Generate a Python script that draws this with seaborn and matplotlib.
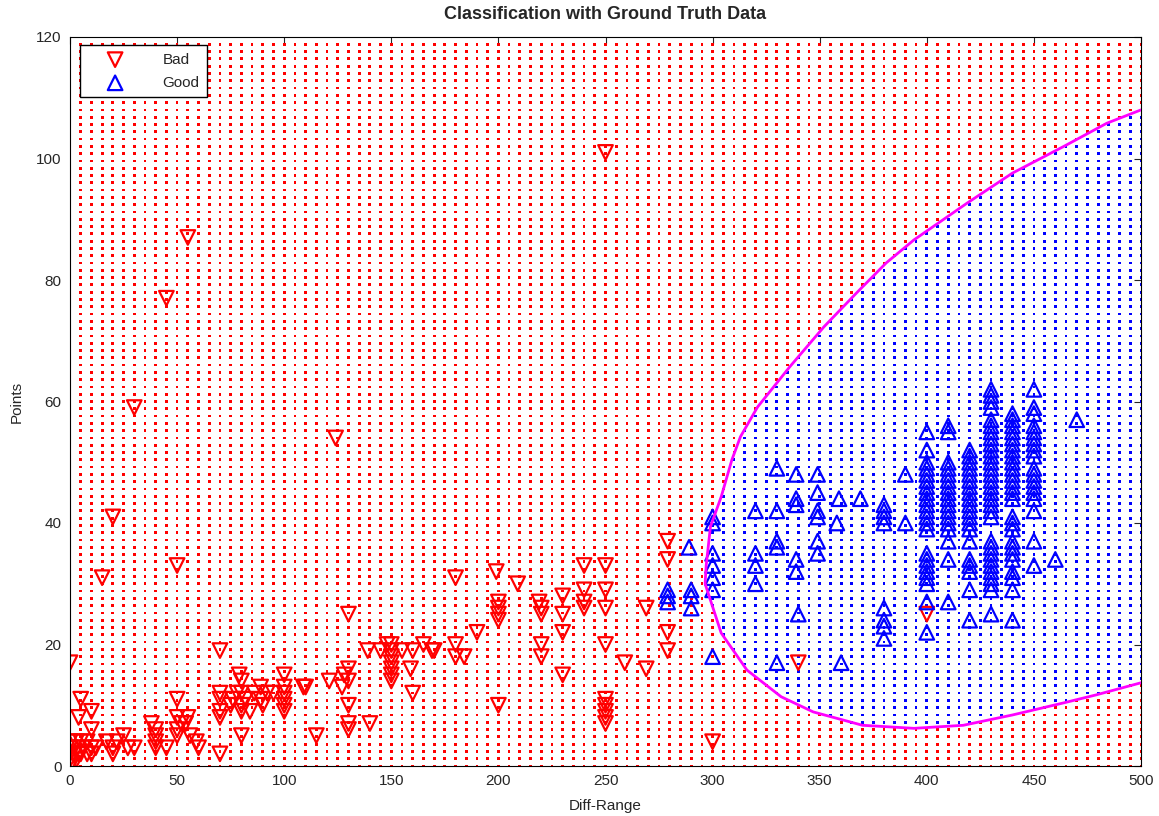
import numpy as np
import pandas as pd
import matplotlib
matplotlib.use("Agg")
import matplotlib.pyplot as plt
from matplotlib.path import Path
import seaborn as sns

# titik data kelas Bad (segitiga merah ke bawah)
bad_x = [0, 0, 0, 0, 0, 0, 1, 2, 2, 3, 3, 4, 5, 4, 5, 5, 6, 8, 8, 10, 10, 10, 10, 12,
         15, 17, 20, 20, 20, 22, 25, 27, 30, 30,
         38, 40, 40, 40, 40, 45, 45, 50, 50, 50, 50, 50, 52, 54, 55, 55, 56, 59, 60,
         70, 70, 70, 70, 70, 70, 75, 76, 78, 79, 80, 80, 80, 80, 80, 82, 84, 86, 89, 89,
         90, 92, 95, 100, 100, 100, 100, 100, 100, 109,
         110, 115, 121, 124, 127, 128, 130, 130, 130, 130, 130, 130, 139, 140, 145, 148,
         150, 150, 150, 150, 150, 150, 150, 155, 159, 160, 160, 165, 169, 170,
         180, 180, 180, 184, 190, 199, 200, 200, 200, 200, 200, 209, 219, 220, 220, 220, 220,
         230, 230, 230, 230, 240, 240, 240, 240, 250, 250, 250, 250, 250, 250, 250, 250, 250, 250,
         259, 269, 269, 279, 279, 279, 279, 300, 340, 400]
bad_y = [0, 1, 2, 3, 4, 17, 0.5, 2, 3, 1, 4, 2, 11, 8, 4, 2, 3, 4, 2, 9, 6, 3, 2, 3,
         31, 4, 41, 3, 2, 4, 5, 3, 59, 3,
         7, 6, 5, 4, 3, 77, 3, 33, 11, 8, 6, 5, 7, 7, 87, 8, 5, 4, 3,
         19, 12, 11, 9, 8, 2, 10, 11, 12, 15, 14, 12, 10, 9, 5, 11, 9, 12, 13, 11,
         10, 12, 12, 15, 13, 12, 11, 10, 9, 13,
         13, 5, 14, 54, 13, 15, 25, 16, 14, 10, 7, 6, 19, 7, 19, 20,
         20, 19, 18, 17, 16, 15, 14, 19, 16, 19, 12, 20, 19, 19,
         31, 20, 18, 18, 22, 32, 27, 26, 25, 24, 10, 30, 27, 26, 25, 20, 18,
         28, 25, 22, 15, 33, 29, 27, 26, 101, 33, 29, 26, 20, 11, 10, 9, 8, 7,
         17, 26, 16, 37, 34, 22, 19, 4, 17, 25]

# titik data kelas Good (segitiga biru ke atas)
good_x = [279, 279, 279, 289, 290, 290, 290, 300, 300, 300, 300, 300, 300, 300,
          320, 320, 320, 320, 330, 330, 330, 330, 330, 339, 339, 339, 339, 339, 340,
          349, 349, 349, 349, 349, 349, 359, 358, 360, 369,
          380, 380, 380, 380, 380, 380, 380, 380, 390, 390,
          400, 400, 400, 400, 400, 400, 400, 400, 400, 400, 400, 400, 400, 400,
          400, 400, 400, 400, 400, 400, 400, 400,
          410, 410, 410, 410, 410, 410, 410, 410, 410, 410, 410, 410, 410, 410, 410, 410, 410,
          420, 420, 420, 420, 420, 420, 420, 420, 420, 420, 420, 420, 420, 420, 420, 420, 420,
          420, 420, 420,
          430, 430, 430, 430, 430, 430, 430, 430, 430, 430, 430, 430, 430, 430, 430, 430, 430,
          430, 430, 430, 430, 430, 430, 430, 430, 430, 430, 430, 430, 430, 430,
          440, 440, 440, 440, 440, 440, 440, 440, 440, 440, 440, 440, 440, 440, 440, 440, 440,
          440, 440, 440, 440, 440, 440, 440, 440, 440,
          450, 450, 450, 450, 450, 450, 450, 450, 450, 450, 450, 450, 450, 450, 450, 450, 450, 450,
          460, 470]
good_y = [29, 28, 27, 36, 29, 28, 26, 41, 40, 35, 33, 31, 29, 18,
          42, 35, 33, 30, 49, 42, 37, 36, 17, 48, 44, 43, 34, 32, 25,
          48, 45, 42, 41, 37, 35, 44, 40, 17, 44,
          43, 42, 41, 40, 26, 24, 23, 21, 48, 40,
          55, 52, 50, 49, 48, 47, 46, 45, 44, 43, 42, 41, 40, 39, 35, 34,
          33, 32, 31, 30, 27, 22,
          56, 55, 50, 49, 48, 47, 46, 45, 44, 43, 42, 41, 40, 39, 37, 34, 27,
          52, 51, 50, 49, 48, 47, 46, 45, 44, 43, 42, 41, 40, 39, 37, 34, 33,
          32, 29, 24,
          62, 61, 60, 59, 57, 56, 55, 54, 53, 52, 51, 50, 49, 48, 47, 46, 45,
          44, 43, 42, 41, 37, 36, 35, 34, 33, 32, 31, 30, 29, 25,
          58, 57, 56, 55, 54, 53, 52, 51, 50, 49, 48, 47, 46, 45, 44, 41, 40,
          39, 37, 36, 35, 34, 32, 31, 29, 24,
          62, 59, 58, 56, 55, 54, 53, 52, 51, 49, 48, 47, 46, 45, 44, 42, 37, 33,
          34, 57]

# batas keputusan (garis magenta)
bound_x = [500, 484, 464, 440, 419, 394, 381, 367, 352, 336, 321, 313, 309, 304, 299,
           297, 296.5, 299, 304, 316, 332, 347, 370, 394, 417, 440, 464, 479, 500]
bound_y = [108, 105.8, 102, 97.6, 92.7, 86.6, 82.8, 77.8, 72.3, 65.7, 59.1, 54.2, 50.4,
           44.3, 39.4, 33, 30, 27.3, 21.9, 15.8, 11.4, 8.9, 6.7, 6.2, 6.7, 8.4, 10.4,
           11.7, 13.7]

# grid klasifikasi
gx, gy = np.meshgrid(np.arange(0, 501, 5), np.linspace(0, 120, 101))
grid = pd.DataFrame({"x": gx.ravel(), "y": gy.ravel()})
region = Path(np.column_stack([bound_x + [501, 501], bound_y + [13.7, 108]]))
inside = region.contains_points(grid[["x", "y"]].values)
grid["cls"] = np.where(inside, "Good", "Bad")

sns.set_style("white")
plt.rcParams["font.family"] = ["Liberation Sans", "DejaVu Sans"]

fig = plt.figure(figsize=(11.59, 8.16), dpi=100)
ax = fig.add_axes([70 / 1159, 50 / 816, 1071 / 1159, 729 / 816])

sns.scatterplot(data=grid, x="x", y="y", hue="cls", palette={"Bad": "red", "Good": "blue"},
                s=4, marker="s", linewidth=0, edgecolor="none", antialiased=False,
                legend=False, ax=ax, zorder=1)

sns.scatterplot(x=bad_x, y=bad_y, marker="v", s=110, facecolors="none", edgecolors="red",
                linewidth=1.6, label="Bad", ax=ax, zorder=2)
sns.scatterplot(x=good_x, y=good_y, marker="^", s=110, facecolors="none", edgecolors="blue",
                linewidth=1.6, label="Good", ax=ax, zorder=2)

sns.lineplot(x=bound_x, y=bound_y, sort=False, estimator=None, errorbar=None,
             color="magenta", linewidth=2, ax=ax, zorder=3)

ax.set_xlim(0, 500)
ax.set_ylim(0, 120)
ax.set_xticks(np.arange(0, 501, 50))
ax.set_yticks(np.arange(0, 121, 20))
ax.tick_params(direction="in", length=5, top=True, right=True, labelsize=11, pad=6)
for s in ax.spines.values():
    s.set_color("black")
    s.set_linewidth(0.8)

ax.set_xlabel("Diff-Range", fontsize=11, labelpad=8)
ax.set_ylabel("Points", fontsize=11, labelpad=9)
ax.set_title("Classification with Ground Truth Data", fontsize=13, fontweight="bold", pad=13)

leg = ax.legend(loc="upper left", bbox_to_anchor=(0.0093, 0.989), borderaxespad=0,
                fontsize=11, fancybox=False, framealpha=1, edgecolor="black",
                handletextpad=1.3, borderpad=0.5, handlelength=3.6, labelspacing=0.6)
leg.get_frame().set_linewidth(1)

fig.savefig("out.png", dpi=100)
